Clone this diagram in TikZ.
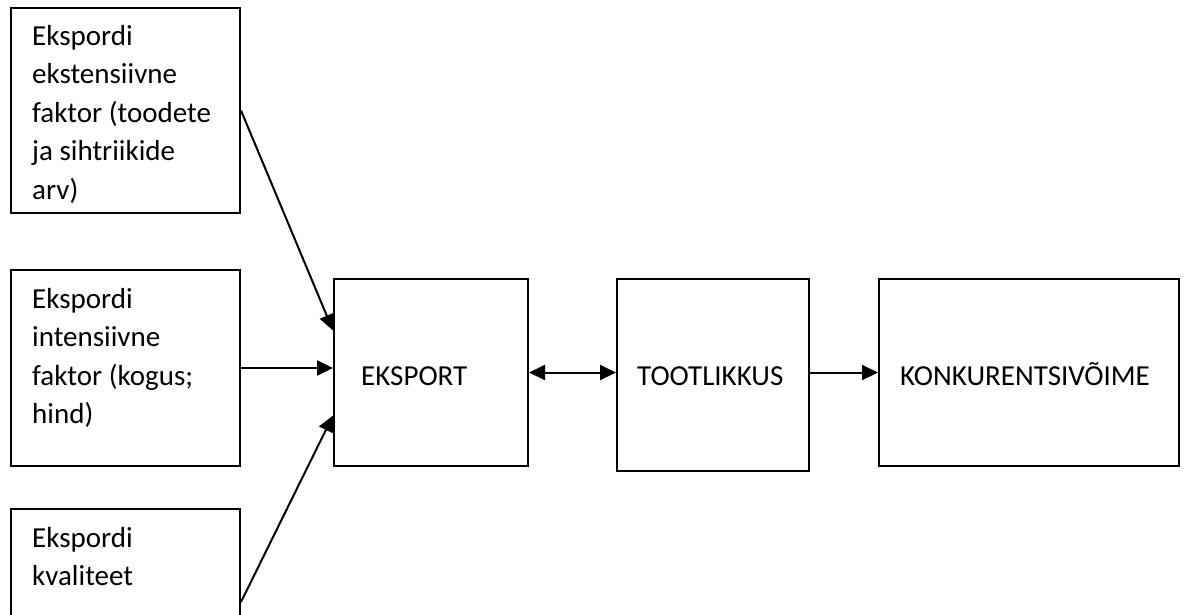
\documentclass[tikz,border=0pt]{standalone}
\usepackage{fontspec}
\setmainfont{Carlito}
\usetikzlibrary{arrows.meta,calc}
\begin{document}
\begin{tikzpicture}[x=1pt,y=-1pt,
  box/.style={draw=black,line width=2pt,rectangle,inner sep=0pt,anchor=north west},
  txt/.style={anchor=base west,inner sep=0pt,align=flush left,text width=200pt,
    font=\fontsize{29}{38.5}\selectfont},
  tip/.style={Triangle[length=16pt,width=15pt]},
  arr/.style={line width=2pt,-{Triangle[length=16pt,width=15pt]}},
  darr/.style={line width=2pt,{Triangle[length=16pt,width=15pt]}-{Triangle[length=16pt,width=15pt]}}]
  \clip (0,0) rectangle (1186,614);
  \fill[white] (0,0) rectangle (1186,614);

  % factor boxes on the left
  \node[box,minimum width=229pt,minimum height=205pt] (f1) at (10,7) {};
  \node[box,minimum width=229pt,minimum height=196pt] (f2) at (10,269) {};
  \node[box,minimum width=229pt,minimum height=188pt] (f3) at (10,508) {};
  \node[txt] (t1) at (32,45) {Ekspordi\\ekstensiivne\\faktor (toodete\\ja sihtriikide\\arv)};
  \node[txt] (t2) at (32,308) {Ekspordi\\intensiivne\\faktor (kogus;\\hind)};
  \node[txt] (t3) at (32,547) {Ekspordi\\kvaliteet};

  % main chain
  \node[box,minimum width=194pt,minimum height=187pt] (eks) at (333,278) {};
  \node[box,minimum width=192pt,minimum height=192pt] (too) at (616,278) {};
  \node[box,minimum width=300pt,minimum height=187pt] (kon) at (878,278) {};
  \node[txt] (te) at (361,385) {EKSPORT};
  \node[txt] (tt) at (637,385) {TOOTLIKKUS};
  \node[txt,text width=280pt] (tk) at (900,385) {KONKURENTSIVÕIME};

  % connectors
  \coordinate (f3out) at ([yshift=-94pt]f3.north east);
  \draw[arr] (f1.east) -- ([yshift=42pt]eks.west);
  \draw[arr] (f2.east) -- (f2.east -| eks.west);
  \draw[arr] (f3out) -- ([yshift=-43pt]eks.west);
  \draw[darr] (eks.east) -- (eks.east -| too.west);
  \draw[arr] (eks.east -| too.east) -- (eks.east -| kon.west);
\end{tikzpicture}
\end{document}
